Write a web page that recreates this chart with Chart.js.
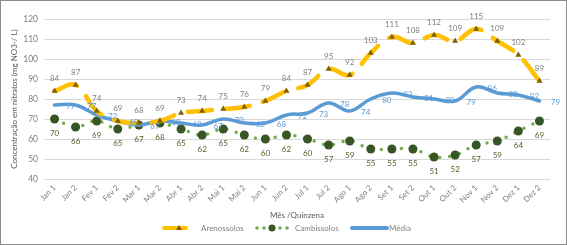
<!DOCTYPE html>
<html>
<head>
<meta charset="utf-8">
<script src="https://cdn.jsdelivr.net/npm/chart.js@4/dist/chart.umd.min.js"></script>
<style>
  body { margin: 0; background: #fff; }
  #frame { width: 567px; height: 245px; box-sizing: border-box; border: 1px solid #8c8c8c; position: relative; }
  #wrap { width: 565px; height: 243px; }
</style>
</head>
<body>
<div id="frame"><div id="wrap"><canvas id="chart"></canvas></div></div>
<script>
const categories = ['Jan 1', 'Jan 2', 'Fev 1', 'Fev 2', 'Mar 1', 'Mar 2', 'Abr 1', 'Abr 2', 'Mai 1', 'Mai 2', 'Jun 1', 'Jun 2',
  'Jul 1', 'Jul 2', 'Ago 1', 'Ago 2', 'Set 1', 'Set 2', 'Out 1', 'Out 2', 'Nov 1', 'Nov 2', 'Dez 1', 'Dez 2']
const arenossolos = [84, 87, 74, 69, 68, 69, 73, 74, 75, 76, 79, 84, 87, 95, 92, 103, 111, 108, 112, 109, 115, 109, 102, 89]
const cambissolos = [70, 66, 69, 65, 67, 68, 65, 62, 65, 62, 60, 62, 60, 57, 59, 55, 55, 55, 51, 52, 57, 59, 64, 69]
const media = [77, 77, 72, 69, 67, 69, 68, 67, 70, 68, 68, 72, 73, 78, 74, 80, 83, 81, 80, 79, 86, 83, 82, 79]
const yTicks = [40, 50, 60, 70, 80, 90, 100, 110, 120]

const FONT = 'Lato, "Open Sans", sans-serif'
const YELLOW = '#FFC000'
const GOLD = '#7F6000'
const LIGHT_GREEN = '#70AD47'
const DARK_GREEN = '#375623'
const BLUE = '#5B9BD5'
const TEXT = '#808080'

// value labels: above for Arenossolos, below for Cambissolos, right for Média
const labelPlugin = {
  id: 'valueLabels',
  afterDatasetsDraw(chart) {
    const ctx = chart.ctx
    ctx.save()
    ctx.font = '8px ' + FONT
    ctx.textAlign = 'center'
    ctx.textBaseline = 'middle'
    chart.data.datasets.forEach((ds, i) => {
      const meta = chart.getDatasetMeta(i)
      meta.data.forEach((pt, j) => {
        const v = ds.data[j]
        if (ds.label === 'Arenossolos') {
          ctx.fillStyle = TEXT
          ctx.fillText(v, pt.x, pt.y - 13)
        } else if (ds.label === 'Cambissolos') {
          ctx.fillStyle = '#4F6228'
          ctx.fillText(v, pt.x, pt.y + 14)
        } else {
          ctx.fillStyle = BLUE
          ctx.fillText(v, pt.x + 16, pt.y + 1)
        }
      })
    })
    ctx.restore()
  }
}

// x axis title and legend under the chart
const bottomPlugin = {
  id: 'bottomLegend',
  afterDraw(chart) {
    const ctx = chart.ctx
    ctx.save()
    ctx.font = '8px ' + FONT
    ctx.fillStyle = '#595959'
    ctx.textAlign = 'center'
    ctx.textBaseline = 'middle'
    ctx.fillText('Mês /Quinzena', 296, 214.5)

    const y = 227
    ctx.lineCap = 'round'
    // Arenossolos
    ctx.strokeStyle = YELLOW
    ctx.lineWidth = 4
    ctx.beginPath(); ctx.moveTo(163, y); ctx.lineTo(185, y); ctx.stroke()
    ctx.fillStyle = GOLD
    ctx.beginPath(); ctx.moveTo(178, y - 3); ctx.lineTo(181, y + 2); ctx.lineTo(175, y + 2); ctx.closePath(); ctx.fill()
    // Cambissolos
    ctx.fillStyle = LIGHT_GREEN
    ;[256, 263, 279, 286].forEach(x => { ctx.beginPath(); ctx.arc(x, y, 1.8, 0, Math.PI * 2); ctx.fill() })
    ctx.fillStyle = DARK_GREEN
    ctx.beginPath(); ctx.arc(271, y, 3.5, 0, Math.PI * 2); ctx.fill()
    // Média
    ctx.strokeStyle = BLUE
    ctx.beginPath(); ctx.moveTo(351, y); ctx.lineTo(386, y); ctx.stroke()

    ctx.fillStyle = TEXT
    ctx.textAlign = 'left'
    ctx.fillText('Arenossolos', 200, y + 0.5)
    ctx.fillText('Cambissolos', 294, y + 0.5)
    ctx.fillText('Média', 388, y + 0.5)
    ctx.restore()
  }
}

new Chart(document.getElementById('chart'), {
  type: 'line',
  data: {
    labels: categories,
    datasets: [{
      label: 'Arenossolos',
      data: arenossolos,
      borderColor: YELLOW,
      borderWidth: 4.5,
      borderDash: [24, 14],
      borderCapStyle: 'round',
      tension: 0.4,
      pointStyle: 'triangle',
      pointRadius: 3.5,
      pointBackgroundColor: GOLD,
      pointBorderColor: GOLD,
      pointBorderWidth: 0,
      order: 0
    }, {
      label: 'Cambissolos',
      data: cambissolos,
      borderColor: LIGHT_GREEN,
      borderWidth: 3.5,
      borderDash: [0, 10],
      borderCapStyle: 'round',
      tension: 0.4,
      pointRadius: 4.5,
      pointBackgroundColor: DARK_GREEN,
      pointBorderColor: DARK_GREEN,
      pointBorderWidth: 0,
      order: 2
    }, {
      label: 'Média',
      data: media,
      borderColor: BLUE,
      borderWidth: 3.5,
      borderCapStyle: 'round',
      tension: 0.4,
      pointRadius: 0,
      order: 1
    }]
  },
  options: {
    responsive: true,
    maintainAspectRatio: false,
    animation: false,
    layout: {
      padding: { left: 5, right: 16, top: 18, bottom: 0 }
    },
    plugins: {
      legend: { display: false },
      tooltip: { enabled: false }
    },
    scales: {
      x: {
        offset: true,
        grid: { display: false, drawTicks: false },
        border: { display: false },
        ticks: {
          color: TEXT,
          font: { family: FONT, size: 8 },
          minRotation: 45,
          maxRotation: 45,
          autoSkip: false,
          padding: 4
        },
        afterFit: (s) => { s.height = 65 }
      },
      y: {
        min: 40,
        max: 120,
        afterBuildTicks: (s) => { s.ticks = yTicks.map(v => ({ value: v })) },
        grid: { color: '#D9D9D9', drawTicks: false },
        border: { display: false },
        ticks: {
          color: TEXT,
          font: { family: FONT, size: 8.5 },
          padding: 6
        },
        title: {
          display: true,
          text: 'Concentração em nitratos (mg NO3-/ L)',
          color: '#595959',
          font: { family: FONT, size: 8 },
          padding: { top: 4, bottom: 0 }
        },
        afterFit: (s) => { s.width = 38 }
      }
    }
  },
  plugins: [labelPlugin, bottomPlugin]
})
</script>
</body>
</html>
